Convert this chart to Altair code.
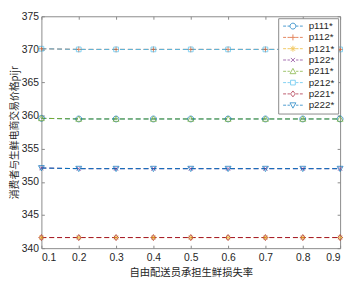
import altair as alt
import pandas as pd

x_vals = [0.1, 0.2, 0.3, 0.4, 0.5, 0.6, 0.7, 0.8, 0.9]
series = ["p111*", "p112*", "p121*", "p122*", "p211*", "p212*", "p221*", "p222*"]
colors = ["#0072BD", "#D95319", "#EDB120", "#7E2F8E", "#77AC30", "#4DBEEE", "#A2142F", "#0072BD"]

p111 = [359.6, 359.5, 359.5, 359.5, 359.5, 359.5, 359.5, 359.5, 359.5]
p112 = [370.1, 370.0, 370.0, 370.0, 370.0, 370.0, 370.0, 370.0, 370.0]
p121 = [341.6, 341.6, 341.6, 341.6, 341.6, 341.6, 341.6, 341.6, 341.6]
p122 = [352.1, 352.0, 352.0, 352.0, 352.0, 352.0, 352.0, 352.0, 352.0]
p211 = [359.6, 359.5, 359.5, 359.5, 359.5, 359.5, 359.5, 359.5, 359.5]
p212 = [370.1, 370.0, 370.0, 370.0, 370.0, 370.0, 370.0, 370.0, 370.0]
p221 = [341.6, 341.6, 341.6, 341.6, 341.6, 341.6, 341.6, 341.6, 341.6]
p222 = [352.1, 352.0, 352.0, 352.0, 352.0, 352.0, 352.0, 352.0, 352.0]
values = [p111, p112, p121, p122, p211, p212, p221, p222]

x_ticks = [0.1, 0.2, 0.3, 0.4, 0.5, 0.6, 0.7, 0.8, 0.9]
y_ticks = [340, 345, 350, 355, 360, 365, 370, 375]

rows = []
for s, vals in zip(series, values):
    for xv, yv in zip(x_vals, vals):
        rows.append({"x": xv, "y": yv, "series": s})
df = pd.DataFrame(rows)


def marker(kind, cx=0.0):
    if kind == "circle":
        return f"M{cx-1},0A1,1 0 1,1 {cx+1},0A1,1 0 1,1 {cx-1},0Z"
    if kind == "plus":
        return f"M{cx},-1V1M{cx-1},0H{cx+1}"
    if kind == "star":
        return (f"M{cx},-1V1M{cx-1},0H{cx+1}"
                f"M{cx-0.7},-0.7L{cx+0.7},0.7M{cx-0.7},0.7L{cx+0.7},-0.7")
    if kind == "x":
        return f"M{cx-0.7},-0.7L{cx+0.7},0.7M{cx-0.7},0.7L{cx+0.7},-0.7"
    if kind == "tri_up":
        return f"M{cx},-1L{cx+1},0.8L{cx-1},0.8Z"
    if kind == "square":
        return f"M{cx-0.8},-0.8H{cx+0.8}V0.8H{cx-0.8}Z"
    if kind == "diamond":
        return f"M{cx},-1L{cx+0.8},0L{cx},1L{cx-0.8},0Z"
    if kind == "tri_down":
        return f"M{cx},1L{cx+1},-0.8L{cx-1},-0.8Z"


kinds = ["circle", "plus", "star", "x", "tri_up", "square", "diamond", "tri_down"]
plot_shapes = [marker(k) for k in kinds]
cx = 2.33
dash = "M-1,0H0M0.5,0H1.3M3.4,0H4.2M4.7,0H5.67"
legend_shapes = [dash + marker(k, cx) for k in kinds]

W, H = 304, 236
axis_common = dict(grid=False, domain=False, offset=-3, tickSize=3)

x_bottom = alt.X("x:Q", scale=alt.Scale(domain=[0.1, 0.9], nice=False, zero=False),
                 axis=alt.Axis(values=x_ticks, format=".1f", title="自由配送员承担生鲜损失率",
                               labelPadding=5, titleX=W / 2, titleY=28,
                               titleBaseline="middle", **axis_common))
y_left = alt.Y("y:Q", scale=alt.Scale(domain=[340, 375], nice=False, zero=False),
               axis=alt.Axis(values=y_ticks, format="d", title="消费者与生鲜电商交易价格pijr",
                             labelPadding=3, titleX=-30, titleY=H / 2,
                             titleBaseline="middle", titleAngle=-90, titleFontSize=10,
                             **axis_common))
x_top = alt.X("x:Q", scale=alt.Scale(domain=[0.1, 0.9], nice=False, zero=False),
              axis=alt.Axis(values=x_ticks, orient="top", labels=False, title=None, **axis_common))
y_right = alt.Y("y:Q", scale=alt.Scale(domain=[340, 375], nice=False, zero=False),
                axis=alt.Axis(values=y_ticks, orient="right", labels=False, title=None, **axis_common))

color_nolegend = alt.Color("series:N", scale=alt.Scale(domain=series, range=colors), legend=None)

lines = alt.Chart(df).mark_line(strokeDash=[5, 3], strokeWidth=1).encode(
    x=x_bottom, y=y_left, color=color_nolegend, detail="series:N",
    order=alt.Order("x:Q"))

points = alt.Chart(df).mark_point(filled=False, strokeWidth=1, size=36).encode(
    x=x_top, y=y_right, color=color_nolegend,
    shape=alt.Shape("series:N", scale=alt.Scale(domain=series, range=plot_shapes), legend=None))

legend_layer = alt.Chart(df).mark_point(filled=False, strokeWidth=1, size=36).encode(
    color=alt.Color("series:N", scale=alt.Scale(domain=series, range=colors),
                    legend=alt.Legend(title=None, orient="none", legendX=241, legendY=2)),
    shape=alt.Shape("series:N", scale=alt.Scale(domain=series, range=legend_shapes),
                    legend=alt.Legend(title=None, orient="none", legendX=241, legendY=2)),
).transform_filter("false")

chart = alt.layer(lines, points, legend_layer).resolve_scale(
    shape="independent", color="independent"
).resolve_axis(x="independent", y="independent").properties(
    width=W, height=H,
    autosize=alt.AutoSizeParams(type="none"),
    padding={"left": 34, "top": 6, "right": 6, "bottom": 31},
).configure_view(stroke="#8a8a8a", strokeWidth=1).configure_axis(
    labelFont="Liberation Sans", labelFontSize=10.5, labelColor="#262626",
    tickColor="#8a8a8a", tickWidth=1,
    titleFont="Noto Sans CJK SC", titleFontSize=10.5, titleFontWeight="normal", titleColor="#262626",
).configure_legend(
    labelFont="Liberation Sans", labelFontSize=10, labelColor="#262626",
    symbolSize=36, symbolStrokeWidth=1, labelOffset=18,
    fillColor="white", strokeColor="#8a8a8a", padding=3, rowPadding=1.5,
    symbolType="circle",
)

chart.save("out.html", embed_options={"renderer": "svg", "actions": False})
